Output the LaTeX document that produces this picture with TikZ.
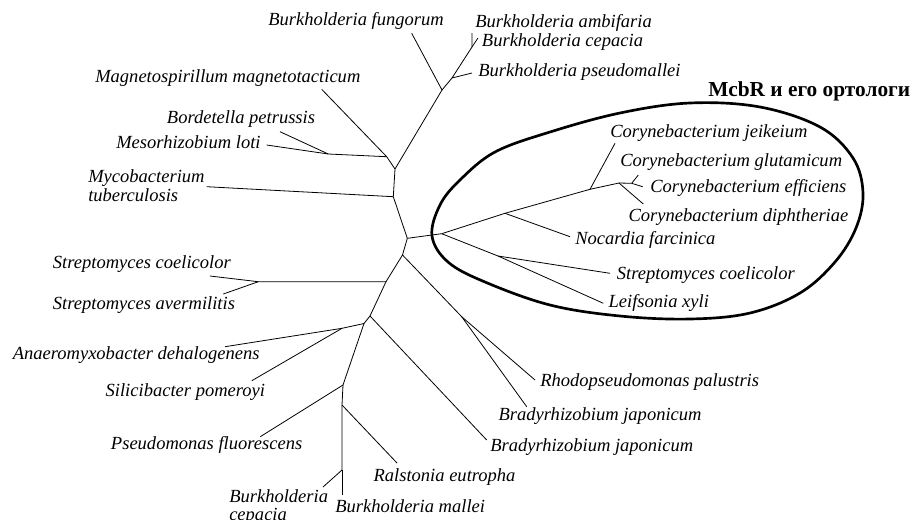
\documentclass[tikz,border=0pt]{standalone}
\usepackage{fontspec}
\setmainfont{Liberation Serif}
\usepackage{tikz}

\tikzset{
  lbl/.style={anchor=west, inner sep=0pt, font=\fontsize{13.9}{14}\selectfont\itshape, text height=9.5pt, text depth=3pt},
  lbltwo/.style={anchor=west, inner sep=0pt, font=\fontsize{13.9}{14}\selectfont\itshape, align=left},
  branch/.style={line width=0.6pt},
  clade/.style={line width=2pt},
}

\begin{document}
\begin{tikzpicture}[x=0.75pt,y=0.75pt,yscale=-1,xscale=1]

\useasboundingbox (0,0) rectangle (911,519);

\coordinate (jA) at (395,169);
\coordinate (jB) at (386.7,156.7);
\coordinate (jBM) at (328.3,154);
\coordinate (tBord) at (280,131.7);
\coordinate (tMeso) at (266.7,145);
\coordinate (tMagn) at (321.7,89.3);
\coordinate (jC) at (442,90);
\coordinate (tFung) at (411.7,33.3);
\coordinate (jD) at (452,78);
\coordinate (tPseu) at (472,73);
\coordinate (jE) at (472,47);
\coordinate (tAmbi) at (472,33);
\coordinate (tCepU) at (478,38);

\coordinate (jF) at (393.3,196.7);
\coordinate (tMyco) at (206.7,186.7);
\coordinate (jG) at (407.3,238.3);
\coordinate (jR) at (441.7,233.7);
\coordinate (jH) at (402.5,255);
\coordinate (jI) at (461.7,316.7);
\coordinate (tRhod) at (535,380);
\coordinate (tBraA) at (526.7,406.7);
\coordinate (jJ) at (386,281.7);
\coordinate (jK) at (258.3,281.7);
\coordinate (tScoL) at (210,276);
\coordinate (tSave) at (223.3,294);
\coordinate (jL) at (370,316);
\coordinate (tBraB) at (486.7,440);
\coordinate (jM) at (364,323.5);
\coordinate (jN) at (342,328.3);
\coordinate (tAnae) at (225,346.7);
\coordinate (tSili) at (251.8,380.7);
\coordinate (jO) at (343,385);
\coordinate (tPsfl) at (260.3,436.7);
\coordinate (jP) at (342,405);
\coordinate (tRals) at (397,463);
\coordinate (jQ) at (342,470);
\coordinate (tCepB) at (323,487);
\coordinate (tMall) at (342,495);

\coordinate (jS) at (505,213.3);
\coordinate (tNoca) at (570,236.7);
\coordinate (jT) at (590,189.3);
\coordinate (tJeik) at (615,143.3);
\coordinate (jU) at (619,183);
\coordinate (tDiph) at (643.3,204);
\coordinate (jV) at (631.7,183.3);
\coordinate (tGlut) at (638.3,175);
\coordinate (tEffi) at (642.7,186.7);
\coordinate (jW) at (498,256);
\coordinate (tScoR) at (610,273.3);
\coordinate (tLeif) at (603.3,303.3);

\draw [branch] (jA) -- (jB) -- (tMagn) ;

\draw [branch] (jB) -- (jBM) -- (tBord) ;

\draw [branch] (jBM) -- (tMeso) ;

\draw [branch] (jA) -- (jC) -- (tFung) ;

\draw [branch] (jC) -- (jD) -- (tPseu) ;

\draw [branch] (jD) -- (jE) -- (tAmbi) ;

\draw [branch] (jE) -- (tCepU) ;

\draw [branch] (jA) -- (jF) -- (tMyco) ;

\draw [branch] (jF) -- (jG) -- (jR) ;

\draw [branch] (jG) -- (jH) -- (jI) -- (tRhod) ;

\draw [branch] (jI) -- (tBraA) ;

\draw [branch] (jH) -- (jJ) -- (jK) -- (tScoL) ;

\draw [branch] (jK) -- (tSave) ;

\draw [branch] (jJ) -- (jL) -- (tBraB) ;

\draw [branch] (jL) -- (jM) -- (jN) -- (tAnae) ;

\draw [branch] (jN) -- (tSili) ;

\draw [branch] (jM) -- (jO) -- (tPsfl) ;

\draw [branch] (jO) -- (jP) -- (tRals) ;

\draw [branch] (jP) -- (jQ) -- (tCepB) ;

\draw [branch] (jQ) -- (tMall) ;

\draw [branch] (jR) -- (jS) -- (tNoca) ;

\draw [branch] (jS) -- (jT) -- (tJeik) ;

\draw [branch] (jT) -- (jU) -- (tDiph) ;

\draw [branch] (jU) -- (jV) -- (tGlut) ;

\draw [branch] (jV) -- (tEffi) ;

\draw [branch] (jR) -- (jW) -- (tScoR) ;

\draw [branch] (jW) -- (tLeif) ;

\draw [clade] plot [smooth cycle, tension=0.6] coordinates {(432,236) (440,205) (460,180) (495,152) (550,132) (620,113) (690,103) (760,107) (820,127) (853,158) (863,193) (856,228) (835,262) (800,293) (750,313) (690,319) (620,316) (550,305) (485,282) (448,262)};

\draw (268,21) node [lbl] (nFung) {Burkholderia fungorum};

\draw (475,23) node [lbl] (nAmbi) {Burkholderia ambifaria};

\draw (481.7,42) node [lbl] (nCepU) {Burkholderia cepacia};

\draw (478,72) node [lbl] (nPseu) {Burkholderia pseudomallei};

\draw (95,78) node [lbl] (nMagn) {Magnetospirillum magnetotacticum};

\draw (166.7,119.5) node [lbl] (nBord) {Bordetella petrussis};

\draw (116,144) node [lbl] (nMeso) {Mesorhizobium loti};

\draw (88,186) node [lbltwo] (nMyco) {Mycobacterium\\tuberculosis};

\draw (52.7,264) node [lbl] (nScoL) {Streptomyces coelicolor};

\draw (52.7,305) node [lbl] (nSave) {Streptomyces avermilitis};

\draw (12.5,355) node [lbl] (nAnae) {Anaeromyxobacter dehalogenens};

\draw (105.4,391.7) node [lbl] (nSili) {Silicibacter pomeroyi};

\draw (110.7,445) node [lbl] (nPsfl) {Pseudomonas fluorescens};

\draw (229,507) node [lbltwo] (nCepB) {Burkholderia\\cepacia};

\draw (335,508.3) node [lbl] (nMall) {Burkholderia mallei};

\draw (373.3,476.7) node [lbl] (nRals) {Ralstonia eutropha};

\draw (490,446.7) node [lbl] (nBraB) {Bradyrhizobium japonicum};

\draw (498.3,415.7) node [lbl] (nBraA) {Bradyrhizobium japonicum};

\draw (540,381.7) node [lbl] (nRhod) {Rhodopseudomonas palustris};

\draw (608.3,303.3) node [lbl] (nLeif) {Leifsonia xyli};

\draw (616.7,275) node [lbl] (nScoR) {Streptomyces coelicolor};

\draw (575,240) node [lbl] (nNoca) {Nocardia farcinica};

\draw (628.3,216.7) node [lbl] (nDiph) {Corynebacterium diphtheriae};

\draw (650,188.3) node [lbl] (nEffi) {Corynebacterium efficiens};

\draw (620,161.7) node [lbl] (nGlut) {Corynebacterium glutamicum};

\draw (610,133.3) node [lbl] (nJeik) {Corynebacterium jeikeium};

\draw (708,91) node [anchor=west, inner sep=0pt, font=\fontsize{16}{17}\selectfont\bfseries] (title) {McbR и его ортологи};

\end{tikzpicture}
\end{document}
